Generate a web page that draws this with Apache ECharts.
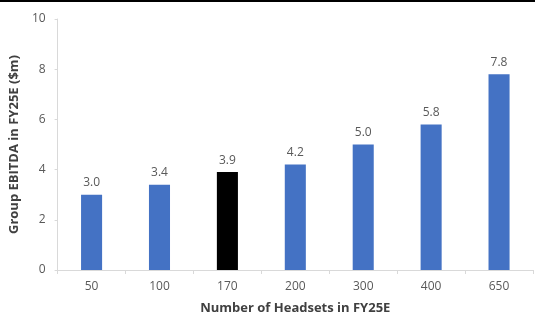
<!DOCTYPE html>
<html>
<head>
<meta charset="utf-8">
<style>
  html, body { margin: 0; padding: 0; background: #fff; }
  #chart { width: 535px; height: 320px; }
</style>
<script src="https://cdn.jsdelivr.net/npm/echarts@6/dist/echarts.min.js"></script>
</head>
<body>
<div id="chart"></div>
<script>
// Headset volume scenarios and resulting group EBITDA ($m)
const categories = ['50', '100', '170', '200', '300', '400', '650'];
const ebitda = [3.0, 3.4, 3.9, 4.2, 5.0, 5.8, 7.8];
const highlightCategory = '170';
const yTicks = [0, 2, 4, 6, 8, 10];

const BLUE = '#4472C4';
const BLACK = '#000000';
const TEXT = '#595959';
const FONT = '"Open Sans", "Liberation Sans", sans-serif';

const chart = echarts.init(document.getElementById('chart'), null, { renderer: 'canvas' });

chart.setOption({
  animation: false,
  backgroundColor: '#ffffff',
  graphic: [{
    type: 'rect',
    left: 0, top: 0,
    shape: { width: 535, height: 2 },
    style: { fill: '#000' }
  }],
  grid: { left: 57, right: 2, top: 19, bottom: 47, containLabel: false },
  xAxis: {
    type: 'category',
    data: categories,
    name: 'Number of Headsets in FY25E',
    nameLocation: 'middle',
    nameGap: 32,
    nameTextStyle: { color: '#404040', fontFamily: FONT, fontSize: 13, fontWeight: 'bold' },
    axisLine: { lineStyle: { color: '#d9d9d9', width: 1 } },
    axisTick: { show: true, length: 4, lineStyle: { color: '#d9d9d9' }, alignWithLabel: false },
    axisLabel: { color: TEXT, fontFamily: FONT, fontSize: 12, margin: 11 }
  },
  yAxis: {
    type: 'value',
    min: yTicks[0],
    max: yTicks[yTicks.length - 1],
    interval: yTicks[1] - yTicks[0],
    name: 'Group EBITDA in FY25E ($m)',
    nameLocation: 'middle',
    nameGap: 33,
    nameRotate: 90,
    nameTextStyle: { color: '#404040', fontFamily: FONT, fontSize: 13, fontWeight: 'bold' },
    axisLine: { show: true, lineStyle: { color: '#d9d9d9', width: 1 } },
    axisTick: { show: true, length: 3, lineStyle: { color: '#d9d9d9' } },
    splitLine: { show: false },
    axisLabel: { color: TEXT, fontFamily: FONT, fontSize: 12, margin: 12 }
  },
  series: [{
    type: 'bar',
    barWidth: '31%',
    data: ebitda.map((v, i) => ({
      value: v,
      itemStyle: { color: categories[i] === highlightCategory ? BLACK : BLUE }
    })),
    label: {
      show: true,
      position: 'top',
      distance: 6,
      color: TEXT,
      fontFamily: FONT,
      fontSize: 12,
      formatter: p => p.value.toFixed(1)
    }
  }]
});
</script>
</body>
</html>
